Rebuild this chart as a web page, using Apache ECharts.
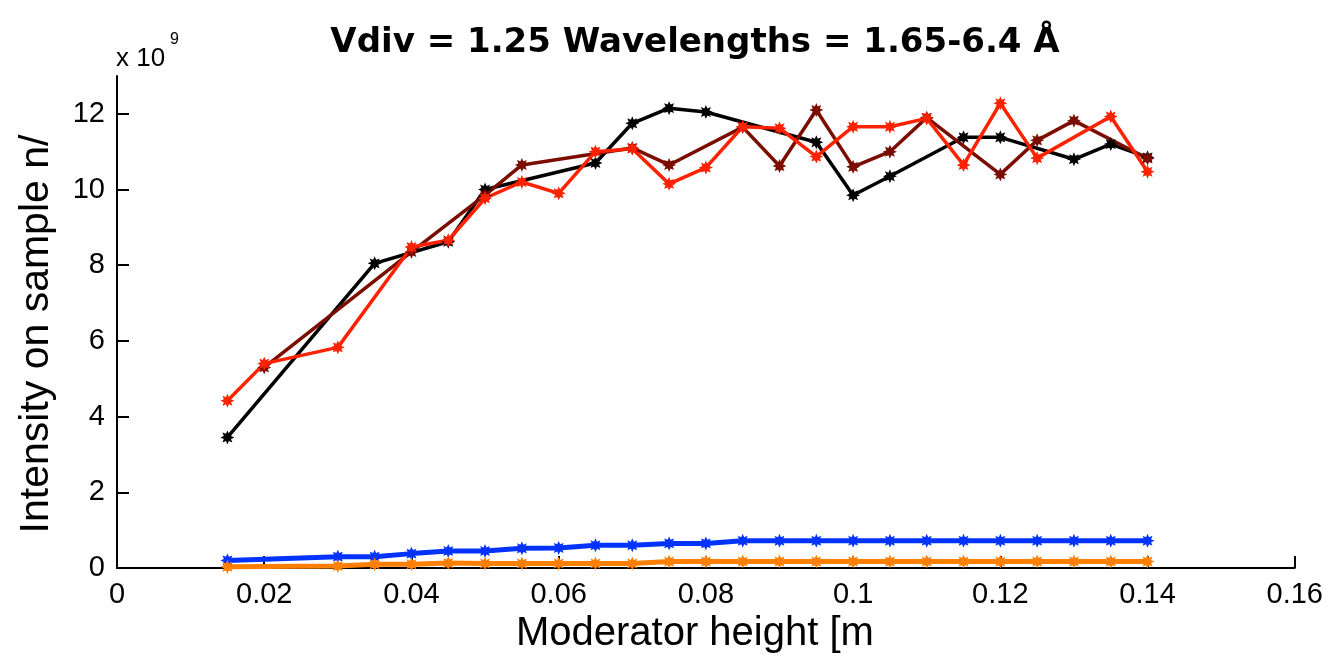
<!DOCTYPE html>
<html>
<head>
<meta charset="utf-8">
<script src="https://cdn.jsdelivr.net/npm/echarts@6/dist/echarts.min.js"></script>
<style>html,body{margin:0;padding:0;background:#fff;}#c{width:1326px;height:665px;}</style>
</head>
<body>
<div id="c"></div>
<script>
// ---- data (moderator height [m], intensity x 1e9) ----
const xBlack = [0.015, 0.035, 0.045, 0.05, 0.065, 0.07, 0.075, 0.08, 0.095, 0.1, 0.105, 0.115, 0.12, 0.13, 0.135, 0.14];
const yBlack = [3.45, 8.05, 8.62, 10.0, 10.7, 11.75, 12.15, 12.05, 11.25, 9.85, 10.35, 11.38, 11.38, 10.8, 11.2, 10.85];

const xBrown = [0.02, 0.04, 0.05, 0.055, 0.07, 0.075, 0.085, 0.09, 0.095, 0.1, 0.105, 0.11, 0.12, 0.125, 0.13, 0.14];
const yBrown = [5.3, 8.35, 9.85, 10.65, 11.1, 10.65, 11.65, 10.62, 12.1, 10.6, 11.0, 11.9, 10.4, 11.3, 11.82, 10.82];

const xRed = [0.015, 0.02, 0.03, 0.04, 0.045, 0.05, 0.055, 0.06, 0.065, 0.07, 0.075, 0.08, 0.085, 0.09, 0.095, 0.1, 0.105, 0.11, 0.115, 0.12, 0.125, 0.135, 0.14];
const yRed = [4.42, 5.4, 5.83, 8.48, 8.66, 9.77, 10.2, 9.9, 11.0, 11.08, 10.15, 10.58, 11.66, 11.62, 10.87, 11.66, 11.66, 11.88, 10.65, 12.28, 10.83, 11.93, 10.47];

const xLow = [0.015, 0.03, 0.035, 0.04, 0.045, 0.05, 0.055, 0.06, 0.065, 0.07, 0.075, 0.08, 0.085, 0.09, 0.095, 0.1, 0.105, 0.11, 0.115, 0.12, 0.125, 0.13, 0.135, 0.14];
const yBlue = [0.2, 0.3, 0.3, 0.38, 0.45, 0.45, 0.52, 0.53, 0.6, 0.6, 0.65, 0.65, 0.72, 0.72, 0.72, 0.72, 0.72, 0.72, 0.72, 0.72, 0.72, 0.72, 0.72, 0.72];
const yOrange = [0.03, 0.05, 0.1, 0.1, 0.13, 0.12, 0.12, 0.12, 0.12, 0.12, 0.17, 0.17, 0.17, 0.17, 0.17, 0.17, 0.17, 0.17, 0.17, 0.17, 0.17, 0.17, 0.17, 0.17];

const xTicks = [0, 0.02, 0.04, 0.06, 0.08, 0.1, 0.12, 0.14, 0.16];
const yTicks = [0, 2, 4, 6, 8, 10, 12];

const titleText = 'Vdiv = 1.25 Wavelengths = 1.65-6.4 Å';
const xName = 'Moderator height [m';
const yName = 'Intensity on sample n/';

// ---- chart ----
const pairs = (xs, ys) => xs.map((x, i) => [x, ys[i]]);
const star = 'path://M10,0L12.1,4.9L17.07,2.93L15.1,7.9L20,10L15.1,12.1L17.07,17.07L12.1,15.1L10,20L7.9,15.1L2.93,17.07L4.9,12.1L0,10L4.9,7.9L2.93,2.93L7.9,4.9Z';
const font = 'Liberation Sans, Arial, sans-serif';

function line(name, data, color, width, size) {
  return {
    name, type: 'line', data, symbol: star, symbolSize: size,
    lineStyle: { color, width }, itemStyle: { color },
    showAllSymbol: true, z: 2
  };
}

const chart = echarts.init(document.getElementById('c'), null, { renderer: 'canvas' });
chart.setOption({
  animation: false,
  backgroundColor: '#fff',
  grid: { left: 117, right: 29, top: 76, bottom: 97, containLabel: false },
  graphic: [
    { type: 'text', x: 695, y: 43, style: { text: titleText, font: 'bold 34px "DejaVu Sans"', fill: '#000', align: 'center', verticalAlign: 'middle' } },
    { type: 'text', x: 116, y: 59, style: { text: 'x 10', font: '26px "Liberation Sans"', fill: '#000', align: 'left', verticalAlign: 'middle' } },
    { type: 'text', x: 170, y: 40, style: { text: '9', font: '16px "Liberation Sans"', fill: '#000', align: 'left', verticalAlign: 'middle' } }
  ],
  xAxis: {
    type: 'value', min: 0, max: 0.16, interval: 0.02,
    name: xName, nameLocation: 'middle', nameGap: 36,
    nameTextStyle: { fontFamily: font, fontSize: 40, color: '#000', padding: [0, 22, 0, 0] },
    axisLine: { show: true, onZero: false, lineStyle: { color: '#000', width: 2 } },
    axisTick: { show: true, inside: true, length: 12, lineStyle: { color: '#000', width: 2 }, customValues: xTicks },
    axisLabel: { color: '#000', fontFamily: font, fontSize: 29, margin: 12, customValues: xTicks, formatter: v => String(v) },
    splitLine: { show: false }
  },
  yAxis: {
    type: 'value', min: 0, max: 13,
    name: yName, nameLocation: 'middle', nameGap: 60,
    nameTextStyle: { fontFamily: font, fontSize: 41, color: '#000', padding: [0, 24, 0, 0] },
    axisLine: { show: true, onZero: false, lineStyle: { color: '#000', width: 2 } },
    axisTick: { show: true, inside: true, length: 12, lineStyle: { color: '#000', width: 2 }, customValues: yTicks },
    axisLabel: { color: '#000', fontFamily: font, fontSize: 29, margin: 12, customValues: yTicks, formatter: v => String(v) },
    splitLine: { show: false }
  },
  series: [
    line('blue', pairs(xLow, yBlue), '#0033ff', 5, 14),
    line('orange', pairs(xLow, yOrange), '#ff8000', 5, 14),
    line('black', pairs(xBlack, yBlack), '#000000', 3.5, 14),
    line('brown', pairs(xBrown, yBrown), '#7a0c00', 3.5, 14),
    line('red', pairs(xRed, yRed), '#ff2200', 3.5, 14)
  ]
});
</script>
</body>
</html>
